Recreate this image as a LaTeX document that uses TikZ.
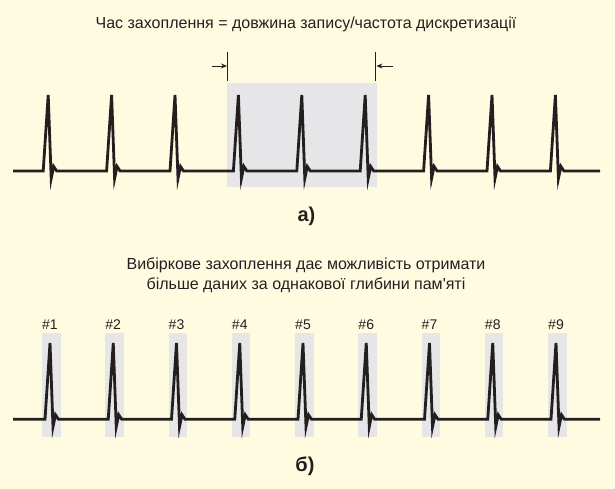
\documentclass[tikz,border=0pt]{standalone}
\usepackage{fontspec}
\setmainfont{Liberation Sans}
\usetikzlibrary{arrows.meta}
\definecolor{bgc}{HTML}{FFFBE0}
\definecolor{boxc}{HTML}{E6E6E8}
\definecolor{ink}{HTML}{231F20}
\tikzset{
  wave/.style={draw=ink, line width=2.8pt, line join=miter},
  shade/.style={fill=boxc, draw=none},
  caption/.style={text=ink, font=\fontsize{16}{19.7}\selectfont, align=center, inner sep=0pt, anchor=base},
  numlabel/.style={text=ink, font=\fontsize{14}{16}\selectfont, inner sep=0pt, anchor=base},
  partlabel/.style={text=ink, font=\fontsize{20}{22}\selectfont\bfseries, inner sep=0pt, anchor=base},
  marker/.style={draw=ink, line width=1.1pt},
  markarrow/.style={draw=ink, line width=0.9pt, -{Stealth[length=6pt,width=5pt]}}
}
\begin{document}
\begin{tikzpicture}[x=1pt,y=-1pt]
\fill[bgc] (0,0) rectangle (615,489);
\useasboundingbox (0,0) rectangle (615,489);
% ---- part a ----
\node[caption] (t1) at (306,28.5) {Час захоплення = довжина запису/частота дискретизації};
\fill[shade] (227.3,83.3) rectangle (376.7,187.3);
\coordinate (mlt) at (227.6,52);
\coordinate (mlb) at (227.6,81);
\coordinate (mrt) at (375.8,52);
\coordinate (mrb) at (375.8,81);
\draw[marker] (mlt) -- (mlb);
\draw[marker] (mrt) -- (mrb);
\coordinate (alS) at (211.5,66);
\coordinate (alE) at (227,66);
\coordinate (arS) at (393,66);
\coordinate (arE) at (376.4,66);
\draw[markarrow] (alS) -- (alE);
\draw[markarrow] (arS) -- (arE);
\draw[wave] (13,171) foreach \p in {48.2,111.6,175,238.4,301.8,365.2,428.6,492,555.4} {
  -- (\p-5,171) -- (\p,95) -- (\p+3,178.5) -- (\p+5.5,166.5) -- (\p+8.5,171) } -- (600,171);
\node[partlabel] (la) at (306.5,221) {а)};
% ---- part b ----
\node[caption] (t2) at (306,289) {Вибіркове захоплення дає можливість отримати\\більше даних за однакової глибини пам\textquotesingle яті};
\foreach \p/\n in {50/1,113.25/2,176.5/3,239.75/4,303/5,366.25/6,429.5/7,492.75/8,556/9} {
  \fill[shade] (\p-8,333.3) rectangle (\p+10.7,437.3);
  \node[numlabel] (n\n) at (\p,329) {\#\n};
}
\draw[wave] (13,419.3) foreach \p in {50,113.25,176.5,239.75,303,366.25,429.5,492.75,556} {
  -- (\p-5,419.3) -- (\p,343) -- (\p+3,426.8) -- (\p+5.5,414.8) -- (\p+8.5,419.3) } -- (600,419.3);
\node[partlabel] (lb) at (305,471.5) {б)};
\end{tikzpicture}
\end{document}
